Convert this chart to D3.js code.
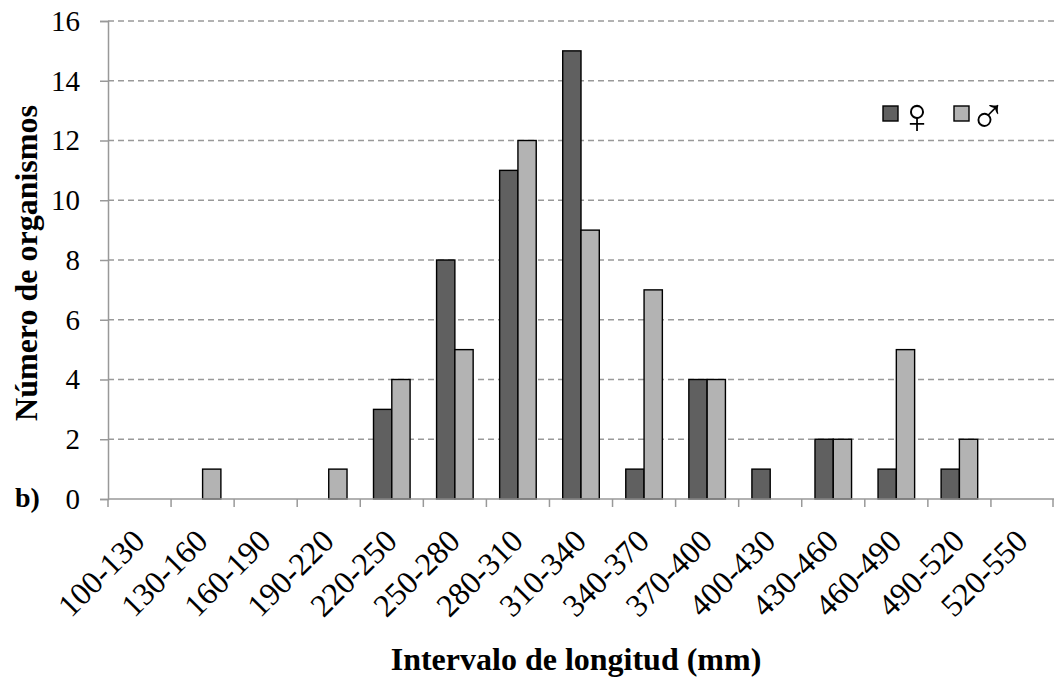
<!DOCTYPE html>
<html>
<head>
<meta charset="utf-8">
<script src="https://cdn.jsdelivr.net/npm/d3@7"></script>
<style>
  html, body { margin: 0; padding: 0; background: #fff; }
  svg text { font-family: "Liberation Serif", "Tinos", "DejaVu Serif", serif !important; fill: #000; }
</style>
</head>
<body>
<svg id="chart" width="1054" height="684"></svg>
<script>
// Length intervals (mm)
const categories = ["100-130","130-160","160-190","190-220","220-250","250-280","280-310",
                    "310-340","340-370","370-400","400-430","430-460","460-490","490-520","520-550"];
// Counts of organisms per interval
const females = [0, 0, 0, 0, 3, 8, 11, 15, 1, 4, 1, 2, 1, 1, 0];
const males   = [0, 1, 0, 1, 4, 5, 12, 9, 7, 4, 0, 2, 5, 2, 0];
const yTicks = [0, 2, 4, 6, 8, 10, 12, 14, 16];

const svg = d3.select("#chart");
const plot = { left: 108, right: 1054, top: 21, bottom: 499 };

const x = d3.scaleBand().domain(categories).range([plot.left, plot.right]).paddingInner(0).paddingOuter(0);
const y = d3.scaleLinear().domain([0, 16]).range([plot.bottom, plot.top]);

const series = [
  { key: "f", values: females, color: "#606060", symbol: "\u2640" },
  { key: "m", values: males,   color: "#b3b3b3", symbol: "\u2642" }
];
const barW = x.bandwidth() * 0.29;
const gridColor = "#999999";

// Horizontal dashed gridlines
svg.append("g").selectAll("line")
  .data(yTicks.filter(d => d > 0))
  .join("line")
  .attr("x1", plot.left).attr("x2", plot.right)
  .attr("y1", d => y(d)).attr("y2", d => y(d))
  .attr("stroke", gridColor).attr("stroke-width", 1.4)
  .attr("stroke-dasharray", "6,4");

// Bars
series.forEach((s, si) => {
  svg.append("g").selectAll("rect")
    .data(s.values.map((v, i) => ({ v, c: categories[i] })).filter(d => d.v > 0))
    .join("rect")
    .attr("x", d => x(d.c) + x.bandwidth() / 2 - barW + si * barW)
    .attr("y", d => y(d.v))
    .attr("width", barW)
    .attr("height", d => y(0) - y(d.v))
    .attr("fill", s.color)
    .attr("stroke", "#000").attr("stroke-width", 1.4);
});

// Y axis
const yAxis = svg.append("g")
  .attr("transform", `translate(${plot.left},0)`)
  .call(d3.axisLeft(y).tickValues(yTicks).tickSize(8).tickPadding(20).tickFormat(d3.format("d")));
yAxis.attr("font-family", null);
yAxis.select(".domain").attr("stroke", gridColor).attr("stroke-width", 1.5);
yAxis.selectAll(".tick line").attr("stroke", gridColor).attr("stroke-width", 1.5);
yAxis.selectAll(".tick text").style("font-size", "29px").attr("fill", "#000");

// X axis: ticks at band boundaries
const xAxis = svg.append("g").attr("transform", `translate(0,${plot.bottom})`);
xAxis.append("line").attr("x1", plot.left).attr("x2", plot.right).attr("stroke", gridColor).attr("stroke-width", 1.5);
xAxis.selectAll("line.tk")
  .data(categories.map(c => x(c)).concat([plot.right - 1]))
  .join("line").attr("class", "tk")
  .attr("x1", d => d).attr("x2", d => d).attr("y1", 0).attr("y2", 8)
  .attr("stroke", gridColor).attr("stroke-width", 1.5);
xAxis.selectAll("text")
  .data(categories)
  .join("text")
  .attr("transform", d => `translate(${x(d) + x.bandwidth() / 2 + 7},${44}) rotate(-45)`)
  .attr("text-anchor", "end")
  .style("font-size", "32px")
  .text(d => d);

// Axis titles
svg.append("text")
  .attr("transform", `translate(37,${263}) rotate(-90)`)
  .attr("text-anchor", "middle")
  .style("font-size", "32px").style("font-weight", "bold")
  .text("Número de organismos");
svg.append("text")
  .attr("x", 576).attr("y", 670)
  .attr("text-anchor", "middle")
  .style("font-size", "32px").style("font-weight", "bold")
  .text("Intervalo de longitud (mm)");

// Panel label
svg.append("text")
  .attr("x", 15).attr("y", 507)
  .style("font-size", "28px").style("font-weight", "bold")
  .text("b)");

// Legend
const legend = svg.append("g");
const legendX = [883, 954];
series.forEach((s, i) => {
  const gx = legendX[i];
  legend.append("rect")
    .attr("x", gx).attr("y", 106).attr("width", 15).attr("height", 15)
    .attr("fill", s.color).attr("stroke", "#000").attr("stroke-width", 1.4);
  legend.append("text")
    .attr("x", gx + 34).attr("y", 133)
    .attr("text-anchor", "middle")
    .style("font-size", "50px")
    .style("font-weight", "300")
    .text(s.symbol);
});
</script>
</body>
</html>
